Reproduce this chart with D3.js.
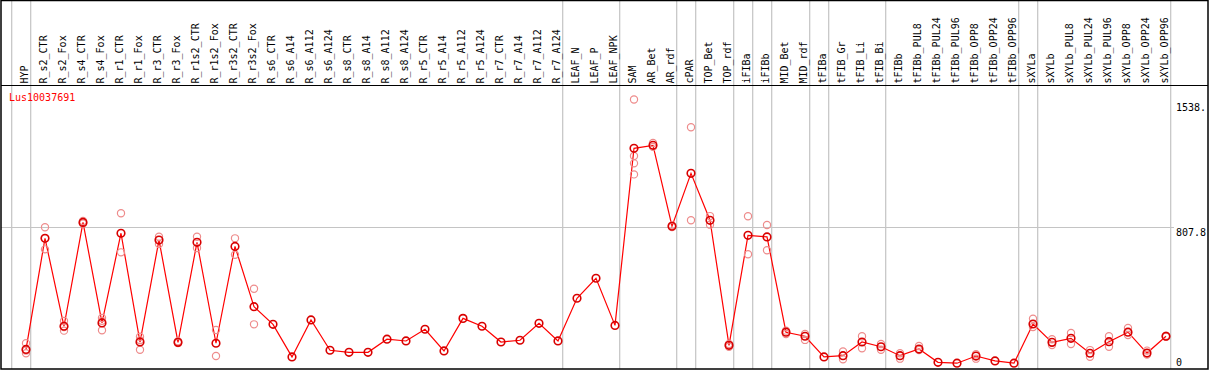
<!DOCTYPE html>
<html>
<head>
<meta charset="utf-8">
<script src="https://cdn.jsdelivr.net/npm/d3@7"></script>
<style>
  body { margin: 0; background: #fff; }
  svg { display: block; }
  text { font-family: "DejaVu Sans Mono", monospace; font-size: 10px; }
</style>
</head>
<body>
<div id="chart-container"></div>
<script>
const width = 1209;
const height = 370;
const geneName = "Lus10037691";

const samples = ["HYP", "R_s2_CTR", "R_s2_Fox", "R_s4_CTR", "R_s4_Fox", "R_r1_CTR", "R_r1_Fox",
  "R_r3_CTR", "R_r3_Fox", "R_r1s2_CTR", "R_r1s2_Fox", "R_r3s2_CTR", "R_r3s2_Fox",
  "R_s6_CTR", "R_s6_A14", "R_s6_A112", "R_s6_A124", "R_s8_CTR", "R_s8_A14", "R_s8_A112", "R_s8_A124",
  "R_r5_CTR", "R_r5_A14", "R_r5_A112", "R_r5_A124", "R_r7_CTR", "R_r7_A14", "R_r7_A112", "R_r7_A124",
  "LEAF_N", "LEAF_P", "LEAF_NPK", "SAM", "AR_Bet", "AR_rdf", "cPAR", "TOP_Bet", "TOP_rdf",
  "iFIBa", "iFIBb", "MID_Bet", "MID_rdf", "tFIBa", "tFIB_Gr", "tFIB_Li", "tFIB_Bi", "tFIBb",
  "tFIBb_PUL8", "tFIBb_PUL24", "tFIBb_PUL96", "tFIBb_OPP8", "tFIBb_OPP24", "tFIBb_OPP96",
  "sXYLa", "sXYLb", "sXYLb_PUL8", "sXYLb_PUL24", "sXYLb_PUL96", "sXYLb_OPP8", "sXYLb_OPP24", "sXYLb_OPP96"];

// mean expression per sample
const means = [112, 746, 244, 837, 263, 775, 154, 736, 152, 723, 147, 700, 356,
  255, 69, 280, 107, 95, 95, 170, 160,
  227, 103, 289, 244, 154, 164, 261, 160,
  404, 518, 249, 1260, 1277, 815, 1117, 849, 135,
  763, 754, 210, 187, 69, 76, 154, 127, 76,
  114, 38, 33, 74, 46, 33,
  257, 152, 175, 90, 156, 210, 91, 187];

// replicate values per sample (empty = single sample)
const replicates = [[147, 90, 105], [809, 683, 746], [274, 219, 240], [845, 830], [291, 221, 275],
  [889, 666], [184, 110, 165], [755, 714], [158, 148], [755, 691], [223, 74], [746, 652], [458, 255],
  [], [], [], [], [], [], [], [], [], [], [], [], [], [], [], [], [], [], [],
  [1538.7, 1216, 1174, 1111], [1290, 1268], [820, 810], [1380, 849], [873, 824], [143, 127],
  [872, 655], [822, 678], [219, 200], [200, 166], [], [100, 55], [187, 118], [143, 110], [90, 59],
  [131, 108], [], [], [84, 59], [], [],
  [287, 240], [170, 137], [206, 143], [108, 70], [187, 127], [234, 194], [105, 82], [190, 184]];

// index of the last sample in each group
const groupEnds = [-1, 0, 28, 31, 34, 35, 37, 38, 39, 41, 42, 45, 52, 53, 60];

const axisLabels = ["1538.", "807.8", "0"];
const axisValues = [1524, 807.8, 0];
const yMax = 1615.6;

const plot = { left: 1, right: 1208, top: 86, bottom: 369 };

const svg = d3.select("#chart-container").append("svg")
  .attr("width", width)
  .attr("height", height);

const x = d3.scaleLinear()
  .domain([0, samples.length - 1])
  .range([26, 1166]);

const y = d3.scaleLinear()
  .domain([0, yMax])
  .range([plot.bottom, plot.top]);

// group separators
svg.append("g")
  .selectAll("line")
  .data(groupEnds)
  .enter().append("line")
  .attr("x1", d => x(d) + 4.7)
  .attr("x2", d => x(d) + 4.7)
  .attr("y1", 0)
  .attr("y2", plot.bottom)
  .attr("stroke", "#c4c4c4")
  .attr("stroke-width", 1.2);

// mid gridline
svg.append("line")
  .attr("x1", plot.left)
  .attr("x2", 1174)
  .attr("y1", y(yMax / 2))
  .attr("y2", y(yMax / 2))
  .attr("stroke", "#c4c4c4")
  .attr("stroke-width", 1.2);

// frame
svg.append("rect")
  .attr("x", plot.left)
  .attr("y", 0.5)
  .attr("width", plot.right - plot.left)
  .attr("height", plot.bottom - 0.5)
  .attr("fill", "none")
  .attr("stroke", "#000")
  .attr("stroke-width", 1.5);

svg.append("line")
  .attr("x1", plot.left)
  .attr("x2", plot.right)
  .attr("y1", plot.top - 0.5)
  .attr("y2", plot.top - 0.5)
  .attr("stroke", "#000")
  .attr("stroke-width", 1.2);

// sample labels
svg.append("g")
  .selectAll("text")
  .data(samples)
  .enter().append("text")
  .attr("transform", (d, i) => `translate(${x(i) + 1.8},83.5) rotate(-90)`)
  .attr("fill", "#000")
  .text(d => d);

// right axis labels
svg.append("g")
  .selectAll("text")
  .data(axisValues)
  .enter().append("text")
  .attr("x", 1176)
  .attr("y", d => d == 0 ? y(d) - 3.5 : y(d) + 8.8)
  .attr("fill", "#000")
  .text((d, i) => axisLabels[i]);

svg.append("text")
  .attr("x", 9)
  .attr("y", 101)
  .attr("fill", "#ff0000")
  .text(geneName);

// mean line
const line = d3.line()
  .x((d, i) => x(i))
  .y(d => y(d));

svg.append("path")
  .datum(means)
  .attr("d", line)
  .attr("fill", "none")
  .attr("stroke", "#ff0000")
  .attr("stroke-width", 1.2);

// replicate points
const reps = [];
replicates.forEach((vals, i) => vals.forEach(v => reps.push({ i: i, v: v })));

svg.append("g")
  .selectAll("circle")
  .data(reps)
  .enter().append("circle")
  .attr("cx", d => x(d.i))
  .attr("cy", d => y(d.v))
  .attr("r", 3.6)
  .attr("fill", "none")
  .attr("stroke", "#ee8c8c")
  .attr("stroke-width", 1.2);

// mean points
svg.append("g")
  .selectAll("circle")
  .data(means)
  .enter().append("circle")
  .attr("cx", (d, i) => x(i))
  .attr("cy", d => y(d))
  .attr("r", 3.8)
  .attr("fill", "none")
  .attr("stroke", "#d80000")
  .attr("stroke-width", 1.6);
</script>
</body>
</html>
